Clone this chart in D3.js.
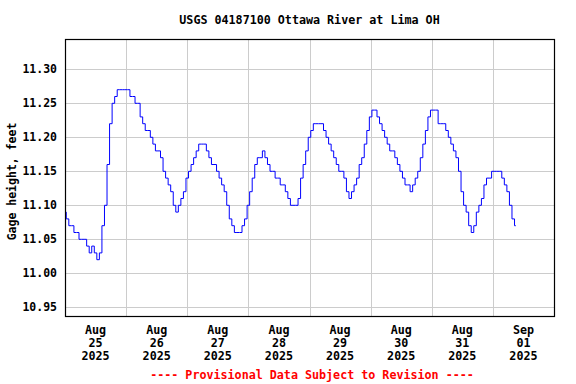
<!DOCTYPE html>
<html>
<head>
<meta charset="utf-8">
<script src="https://cdn.jsdelivr.net/npm/d3@7"></script>
<style>
  html, body { margin: 0; padding: 0; background: #fff; }
  svg { display: block; }
  text { font-family: "DejaVu Sans Mono", "Liberation Mono", monospace; font-weight: bold; }
</style>
</head>
<body>
<svg id="chart" width="576" height="384"></svg>
<script>
// ---- data ----
const title = "USGS 04187100 Ottawa River at Lima OH";
const yLabel = "Gage height, feet";
const footnote = "---- Provisional Data Subject to Revision ----";
const startTime = "2025-08-25T00:00:00Z";   // first reading, hourly readings follow
const endTime = "2025-09-02T00:00:00Z";
const yTicks = [10.95, 11.00, 11.05, 11.10, 11.15, 11.20, 11.25, 11.30];
const dayTicks = ["2025-08-25T12:00:00Z","2025-08-26T12:00:00Z","2025-08-27T12:00:00Z","2025-08-28T12:00:00Z",
                  "2025-08-29T12:00:00Z","2025-08-30T12:00:00Z","2025-08-31T12:00:00Z","2025-09-01T12:00:00Z"];
const dayTickLabels = [["Aug","25","2025"],["Aug","26","2025"],["Aug","27","2025"],["Aug","28","2025"],
                       ["Aug","29","2025"],["Aug","30","2025"],["Aug","31","2025"],["Sep","01","2025"]];
// gage height, feet (hourly)
const gageAug25 = [11.09,11.08,11.07,11.07,11.06,11.06,11.05,11.05,11.05,11.04,11.03,11.04,
                   11.03,11.02,11.03,11.07,11.10,11.16,11.22,11.25,11.26,11.27,11.27,11.27];
const gageAug26 = [11.27,11.27,11.26,11.26,11.25,11.25,11.23,11.22,11.21,11.21,11.20,11.19,
                   11.18,11.18,11.17,11.15,11.14,11.13,11.12,11.10,11.09,11.10,11.11,11.12];
const gageAug27 = [11.14,11.15,11.16,11.17,11.18,11.19,11.19,11.19,11.18,11.17,11.16,11.16,
                   11.15,11.14,11.13,11.12,11.10,11.08,11.07,11.06,11.06,11.06,11.07,11.08];
const gageAug28 = [11.10,11.12,11.14,11.16,11.17,11.17,11.18,11.17,11.16,11.15,11.15,11.14,
                   11.14,11.13,11.13,11.12,11.11,11.10,11.10,11.10,11.11,11.14,11.16,11.18];
const gageAug29 = [11.20,11.21,11.22,11.22,11.22,11.22,11.21,11.20,11.19,11.18,11.17,11.16,
                   11.15,11.15,11.14,11.12,11.11,11.12,11.13,11.14,11.16,11.17,11.19,11.21];
const gageAug30 = [11.23,11.24,11.24,11.23,11.22,11.21,11.20,11.19,11.18,11.18,11.17,11.16,
                   11.15,11.14,11.13,11.13,11.12,11.13,11.14,11.15,11.17,11.19,11.21,11.23];
const gageAug31 = [11.24,11.24,11.24,11.22,11.22,11.22,11.21,11.20,11.19,11.18,11.17,11.15,
                   11.12,11.10,11.09,11.07,11.06,11.07,11.09,11.10,11.11,11.13,11.14,11.14];
const gageSep01 = [11.15,11.15,11.15,11.15,11.14,11.13,11.12,11.10,11.08,11.07];

// ---- build ----
const values = [].concat(gageAug25, gageAug26, gageAug27, gageAug28, gageAug29, gageAug30, gageAug31, gageSep01);
const t0 = new Date(startTime).getTime();
const series = values.map((v, i) => ({ t: new Date(t0 + i * 3600 * 1000), v }));

const L = 65, R = 554, T = 39, B = 316;
const svg = d3.select("#chart");

const x = d3.scaleUtc().domain([new Date(startTime), new Date(endTime)]).range([L, R]);
const y = d3.scaleLinear().domain([10.95 - 8.7 / 680, 11.30 + 30.3 / 680]).range([B, T]);

// grid
const gridDays = d3.utcDay.range(new Date("2025-08-26T00:00:00Z"), new Date(endTime));
svg.append("g").selectAll("line").data(gridDays).join("line")
  .attr("x1", d => Math.round(x(d)) + 0.5).attr("x2", d => Math.round(x(d)) + 0.5)
  .attr("y1", T).attr("y2", B)
  .attr("stroke", "#cccccc").attr("stroke-width", 1);
svg.append("g").selectAll("line").data(yTicks).join("line")
  .attr("x1", L).attr("x2", R)
  .attr("y1", d => Math.round(y(d)) + 0.5).attr("y2", d => Math.round(y(d)) + 0.5)
  .attr("stroke", "#cccccc").attr("stroke-width", 1);

// data line
const line = d3.line().x(d => x(d.t)).y(d => y(d.v)).curve(d3.curveStep);
svg.append("path").datum(series)
  .attr("d", line).attr("fill", "none").attr("stroke", "#0000ff").attr("stroke-width", 1);

// frame
svg.append("rect").attr("x", L + 0.5).attr("y", T + 0.5)
  .attr("width", R - L).attr("height", B - T)
  .attr("fill", "none").attr("stroke", "#000").attr("stroke-width", 1.2);

// y axis labels
svg.append("g").selectAll("text").data(yTicks).join("text")
  .attr("x", L - 8).attr("y", d => y(d)).attr("dy", "0.35em")
  .attr("text-anchor", "end").attr("font-size", 11.5).attr("fill", "#000")
  .text(d => d.toFixed(2));

// x axis labels
const xl = svg.append("g").selectAll("text").data(dayTicks.map((d, i) => ({ t: new Date(d), lab: dayTickLabels[i] })))
  .join("text").attr("text-anchor", "middle").attr("font-size", 11.7).attr("fill", "#000");
xl.each(function(d) {
  const sel = d3.select(this);
  d.lab.forEach((s, j) => {
    sel.append("tspan").attr("x", x(d.t)).attr("y", 330 + j * 13).attr("dy", "0.35em").text(s);
  });
});

// title
svg.append("text").attr("x", (L + R) / 2).attr("y", 20).attr("dy", "0.35em")
  .attr("text-anchor", "middle").attr("font-size", 11.7).attr("fill", "#000").text(title);

// y label
svg.append("text").attr("transform", `translate(12,${(T + B) / 2 + 4}) rotate(-90)`)
  .attr("dy", "0.35em").attr("text-anchor", "middle").attr("font-size", 11.5).attr("fill", "#000").text(yLabel);

// footnote
svg.append("text").attr("x", 312).attr("y", 375).attr("dy", "0.35em")
  .attr("text-anchor", "middle").attr("font-size", 11.7).attr("fill", "#ff0000").text(footnote);
</script>
</body>
</html>
